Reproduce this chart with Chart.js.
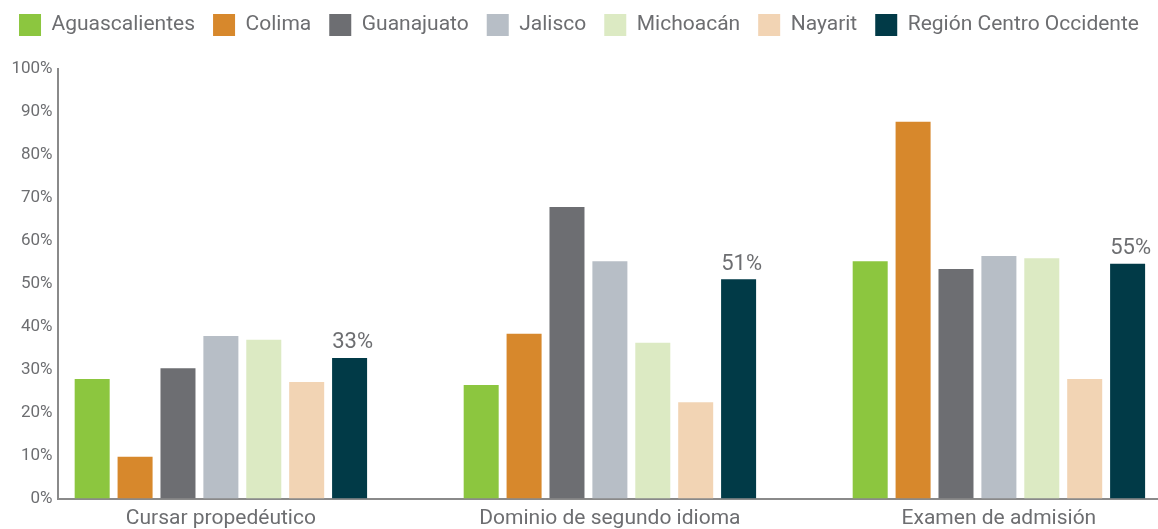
<!DOCTYPE html>
<html>
<head>
<meta charset="utf-8">
<script src="https://cdn.jsdelivr.net/npm/chart.js@4.4.1/dist/chart.umd.min.js"></script>
<style>
  html, body { margin: 0; padding: 0; background: #fff; }
  #wrap { width: 1158px; height: 529px; }
</style>
</head>
<body>
<div id="wrap"><canvas id="chart"></canvas></div>
<script>
// ---------------- Data ----------------
const categories = ["Cursar propedéutico", "Dominio de segundo idioma", "Examen de admisión"];
const states = ["Aguascalientes", "Colima", "Guanajuato", "Jalisco", "Michoacán", "Nayarit", "Región Centro Occidente"];
const aguascalientes = [27.8, 26.4, 55.2];
const colima = [9.7, 38.3, 87.6];
const guanajuato = [30.3, 67.8, 53.4];
const jalisco = [37.8, 55.2, 56.4];
const michoacan = [36.9, 36.2, 55.9];
const nayarit = [27.1, 22.4, 27.8];
const region = [32.7, 51.0, 54.6];
const yTicks = [0, 10, 20, 30, 40, 50, 60, 70, 80, 90, 100];

const colors = ["#8cc63f", "#d7882c", "#6d6e72", "#b7bec6", "#dceac3", "#f2d4b4", "#013a47"];
const series = [aguascalientes, colima, guanajuato, jalisco, michoacan, nayarit, region];

const textColor = "#6d6e71";
const fontFamily = "Roboto, 'DejaVu Sans', sans-serif";

// ---------------- Plugins ----------------
// keep legend a fixed height so the plot starts where the reference does
const legendHeight = {
  id: "legendHeight",
  beforeLayout(chart) {
    const lg = chart.legend;
    if (lg && !lg._fixed) {
      const fit = lg.fit.bind(lg);
      lg.fit = function () { fit(); this.height = 72.5; };
      lg._fixed = true;
    }
  },
};

// value label above the regional bars only
const regionLabels = {
  id: "regionLabels",
  afterDatasetsDraw(chart) {
    const idx = states.length - 1;
    const meta = chart.getDatasetMeta(idx);
    const ctx = chart.ctx;
    ctx.save();
    ctx.font = "22px " + fontFamily;
    ctx.fillStyle = "#6d6e71";
    ctx.textAlign = "center";
    ctx.textBaseline = "bottom";
    meta.data.forEach((bar, i) => {
      ctx.fillText(Math.round(region[i]) + "%", bar.x + 3, bar.y - 4);
    });
    ctx.restore();
  },
};

const datasets = states.map((name, s) => ({
  label: name,
  data: series[s].map((v, i) => ({ x: i, y: v })),
  backgroundColor: colors[s],
  borderWidth: 0,
  categoryPercentage: 0.772,
  barPercentage: 0.816,
}));

new Chart(document.getElementById("chart"), {
  type: "bar",
  data: { datasets },
  options: {
    responsive: true,
    maintainAspectRatio: false,
    animation: false,
    layout: { padding: { top: -4, left: 0, right: 0, bottom: 0 } },
    plugins: {
      legend: {
        position: "top",
        align: "center",
        labels: {
          boxWidth: 22,
          boxHeight: 22,
          padding: 18,
          color: textColor,
          font: { family: fontFamily, size: 21 },
        },
      },
      tooltip: { enabled: false },
    },
    scales: {
      x: {
        type: "linear",
        offset: false,
        min: -0.42,
        max: 2.409,
        grid: { display: false, drawTicks: false },
        border: { display: true, color: "#8a8a8a", width: 2 },
        afterBuildTicks: (scale) => {
          scale.ticks = categories.map((_, i) => ({ value: i }));
        },
        afterFit: (scale) => { scale.height = 30.5; },
        ticks: {
          padding: 8,
          color: textColor,
          font: { family: fontFamily, size: 21 },
          callback: (v) => categories[v],
        },
      },
      y: {
        min: 0,
        max: 100,
        grid: { display: false, drawTicks: false },
        border: { display: true, color: "#8a8a8a", width: 2 },
        afterBuildTicks: (scale) => {
          scale.ticks = yTicks.map((v) => ({ value: v }));
        },
        afterFit: (scale) => { scale.width = 57.5; },
        ticks: {
          padding: 5,
          color: textColor,
          font: { family: fontFamily, size: 17 },
          callback: (v) => v + "%",
        },
      },
    },
  },
  plugins: [legendHeight, regionLabels],
});
</script>
</body>
</html>
